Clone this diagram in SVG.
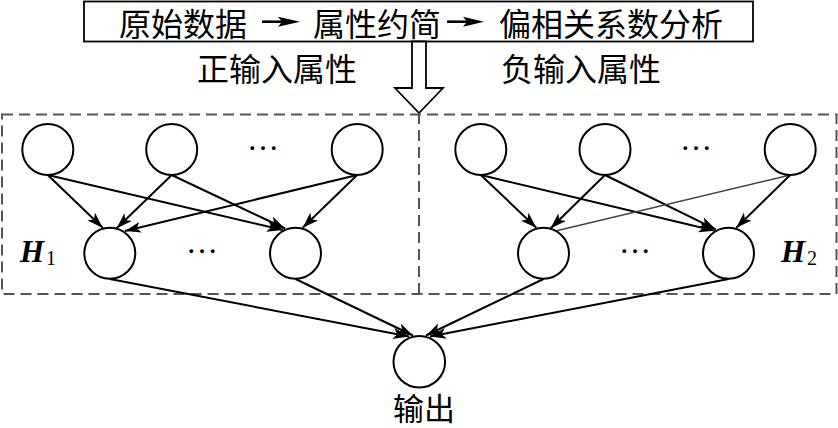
<svg xmlns="http://www.w3.org/2000/svg" width="838" height="428" viewBox="0 0 838 428">
<style>
.cjk{font-family:"Noto Sans CJK SC","Noto Sans",sans-serif;font-size:32px;fill:#000}
.node{fill:#fff;stroke:#000;stroke-width:2}
.edge{stroke:#000;stroke-width:2;fill:none;marker-end:url(#ah)}
.dots{font-family:"Liberation Serif",serif;font-size:32px;text-anchor:middle}
.hl{font-family:"Liberation Serif",serif;font-size:31px;font-weight:bold;font-style:italic}
.sub{font-family:"Liberation Serif",serif;font-size:20px}
.dash{fill:none;stroke:#555;stroke-width:2;stroke-dasharray:11 6}
</style>
<defs>
<marker id="ah" markerUnits="userSpaceOnUse" markerWidth="18" markerHeight="12" refX="16" refY="5.5" orient="auto">
<path d="M0,0 L16,5.5 L0,11 L4,5.5 z" fill="#000"/>
</marker>
</defs>
<rect width="838" height="428" fill="#fff"/>
<g id="header">
<rect x="84" y="1.5" width="669" height="40" fill="#fff" stroke="#000" stroke-width="1.8"/>
<text class="cjk" x="119" y="35.5">原始数据</text>
<line x1="262" y1="21.7" x2="282" y2="21.7" stroke="#000" stroke-width="2.6"/>
<path d="M278,16.7 L300,21.7 L278,26.7 L282,21.7 z" fill="#000"/>
<text class="cjk" x="313" y="35.5">属性约简</text>
<line x1="447" y1="21.7" x2="467" y2="21.7" stroke="#000" stroke-width="2.6"/>
<path d="M463,16.7 L484,21.7 L463,26.7 L467,21.7 z" fill="#000"/>
<text class="cjk" x="499" y="35.5">偏相关系数分析</text>
</g>
<g id="bigArrow">
<polygon points="412,41.5 426,41.5 426,88 443,88 419,113 395,88 412,88" fill="#fff" stroke="#000" stroke-width="1.8"/>
</g>
<g id="labels">
<text class="cjk" x="197" y="81">正输入属性</text>
<text class="cjk" x="501" y="81">负输入属性</text>
</g>
<g id="groups">
<rect class="dash" x="2" y="114.5" width="834.5" height="179.5"/>
<line class="dash" x1="419" y1="113" x2="419" y2="294"/>
</g>
<g id="connectors">
<line class="edge" x1="47.8" y1="175" x2="102.7" y2="227.7"/>
<line class="edge" x1="47.8" y1="175" x2="283" y2="230"/>
<line class="edge" x1="171.7" y1="175" x2="116.7" y2="228.3"/>
<line class="edge" x1="171.7" y1="175" x2="285" y2="228.5"/>
<line class="edge" x1="357.2" y1="175" x2="125" y2="231"/>
<line class="edge" x1="357.2" y1="175" x2="302.7" y2="227.7"/>
<line class="edge" x1="480.8" y1="175" x2="536.3" y2="227.7"/>
<line class="edge" x1="480.8" y1="175" x2="714.7" y2="230.7"/>
<line class="edge" x1="605" y1="175" x2="550.7" y2="228.3"/>
<line class="edge" x1="605" y1="175" x2="715.7" y2="229.3"/>
<line x1="790.2" y1="175" x2="553.5" y2="231.5" stroke="#444" stroke-width="1.5"/>
<line class="edge" x1="790.2" y1="175" x2="736.3" y2="227.7"/>
<line class="edge" x1="109.8" y1="279" x2="409" y2="336.5"/>
<line class="edge" x1="295.5" y1="279" x2="413" y2="335.5"/>
<line class="edge" x1="543.5" y1="279" x2="426" y2="335.5"/>
<line class="edge" x1="728.5" y1="279" x2="430" y2="336.5"/>
</g>
<g id="H1">
<circle id="p_in1" class="node" cx="47.8" cy="149.5" r="25.5"/>
<circle id="p_in2" class="node" cx="171.7" cy="149.5" r="25.5"/>
<circle id="p_in3" class="node" cx="357.2" cy="149.5" r="25.5"/>
<text class="dots" x="263" y="150">…</text>
<circle id="p_h1" class="node" cx="109.8" cy="253.3" r="25.5"/>
<circle id="p_h2" class="node" cx="295.5" cy="253.3" r="25.5"/>
<text class="dots" x="202" y="253">…</text>
<text class="hl" x="20" y="262">H</text>
<text class="sub" x="46" y="265">1</text>
</g>
<g id="H2">
<circle id="n_in1" class="node" cx="480.8" cy="149.5" r="25.5"/>
<circle id="n_in2" class="node" cx="605" cy="149.5" r="25.5"/>
<circle id="n_in3" class="node" cx="790.2" cy="149.5" r="25.5"/>
<text class="dots" x="696" y="150">…</text>
<circle id="n_h1" class="node" cx="543.5" cy="253.3" r="25.5"/>
<circle id="n_h2" class="node" cx="728.5" cy="253.3" r="25.5"/>
<text class="dots" x="635" y="253">…</text>
<text class="hl" x="781" y="262">H</text>
<text class="sub" x="807" y="265">2</text>
</g>
<g id="output">
<circle class="node" cx="419.3" cy="361.7" r="25.8"/>
<text class="cjk" x="393" y="420" style="font-size:31px">输出</text>
</g>
</svg>
